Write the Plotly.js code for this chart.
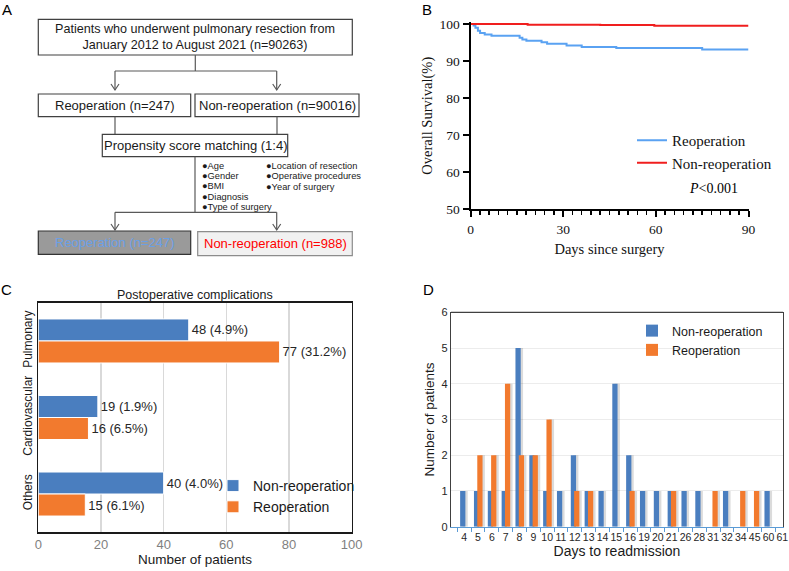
<!DOCTYPE html>
<html>
<head>
<meta charset="utf-8">
<script src="https://cdn.plot.ly/plotly-3.0.1.min.js"></script>
<style>html,body{margin:0;padding:0;background:#fff;}#chart{width:789px;height:571px;}</style>
</head>
<body>
<div id="chart"></div>
<script>
// ---------- Data ----------
// Panel B: Kaplan-Meier steps
const kmReopDays = [0, 1.0, 1.6, 2.4, 3.1, 4.6, 6.8, 15.9, 16.8, 18.1, 23.0, 24.8, 31.1, 36.0, 47.2, 75.0, 90];
const kmReopSurv = [100, 99.6, 99.0, 98.2, 97.6, 97.2, 96.8, 96.3, 95.8, 95.5, 95.1, 94.7, 94.2, 93.8, 93.5, 93.1, 93.1];
const kmNonDays = [0, 18.5, 42, 59.5, 90];
const kmNonSurv = [100, 99.8, 99.7, 99.5, 99.5];
// Panel C: complications
const compCategories = ['Pulmonary', 'Cardiovascular', 'Others'];
const compNonReop = [48, 19, 40];
const compNonReopPct = [4.9, 1.9, 4.0];
const compReop = [77, 16, 15];
const compReopPct = [31.2, 6.5, 6.1];
// Panel D: readmission
const readmitDays = ['4','5','6','7','8','9','10','11','12','13','14','15','16','19','20','21','26','28','31','32','34','45','60','61'];
const readmitNonReop = [1,1,1,1,5,2,1,1,2,1,1,4,2,1,1,1,1,1,0,1,0,0,1,0];
const readmitReop    = [0,2,2,4,2,2,3,0,1,1,0,0,1,0,0,1,0,0,1,0,1,1,0,0];
// Panel A: flowchart texts
const flowTop = 'Patients who underwent pulmonary resection from<br>January 2012 to August 2021 (n=90263)';
const flowReop = 'Reoperation (n=247)';
const flowNon = 'Non-reoperation (n=90016)';
const flowPSM = 'Propensity score matching (1:4)';
const flowCovLeft = ['Age', 'Gender', 'BMI', 'Diagnosis', 'Type of surgery'];
const flowCovRight = ['Location of resection', 'Operative procedures', 'Year of surgery'];
const flowReopM = 'Reoperation (n=247)';
const flowNonM = 'Non-reoperation (n=988)';

// ---------- Helpers ----------
const W = 789, H = 571;
const px = v => v / W;
const py = v => 1 - v / H;

const BLUE = '#4A7EBF', ORANGE = '#F27A2E';
const SANS = 'Liberation Sans, Arial, sans-serif';
const SERIF = 'Liberation Serif, Times New Roman, serif';

const fmt = (v, p) => v + ' (' + p.toFixed(1) + '%)';

// ---------- Traces ----------
const traces = [];
// B
traces.push({type:'scatter', mode:'lines', x:kmReopDays, y:kmReopSurv, line:{shape:'hv', color:'#5AA2F2', width:2},
  name:'Reoperation', xaxis:'x', yaxis:'y', legend:'legend', hoverinfo:'skip'});
traces.push({type:'scatter', mode:'lines', x:kmNonDays, y:kmNonSurv, line:{shape:'hv', color:'#F01E1E', width:2},
  name:'Non-reoperation', xaxis:'x', yaxis:'y', legend:'legend', hoverinfo:'skip'});
// C
traces.push({type:'bar', orientation:'h', y:compCategories, x:compNonReop, name:'Non-reoperation',
  marker:{color:BLUE, line:{color:'#ffffff', width:1}}, text:compNonReop.map((v,i)=>fmt(v, compNonReopPct[i])),
  textposition:'outside', textfont:{family:SANS, size:13, color:'#262626'}, cliponaxis:false,
  xaxis:'x2', yaxis:'y2', legend:'legend2', hoverinfo:'skip'});
traces.push({type:'bar', orientation:'h', y:compCategories, x:compReop, name:'Reoperation',
  marker:{color:ORANGE, line:{color:'#ffffff', width:1}}, text:compReop.map((v,i)=>fmt(v, compReopPct[i])),
  textposition:'outside', textfont:{family:SANS, size:13, color:'#262626'}, cliponaxis:false,
  xaxis:'x2', yaxis:'y2', legend:'legend2', hoverinfo:'skip'});
// D (shadows then bars)
const bw = 0.38;
traces.push({type:'bar', x:readmitDays, y:readmitNonReop, width:bw, offset:-0.29+0.17, marker:{color:'rgba(0,0,0,0.14)'},
  showlegend:false, xaxis:'x3', yaxis:'y3', hoverinfo:'skip'});
traces.push({type:'bar', x:readmitDays, y:readmitNonReop, width:bw, offset:-0.29, marker:{color:BLUE},
  name:'Non-reoperation', xaxis:'x3', yaxis:'y3', legend:'legend3', hoverinfo:'skip'});
traces.push({type:'bar', x:readmitDays, y:readmitReop, width:bw, offset:-0.05+0.17, marker:{color:'rgba(0,0,0,0.14)'},
  showlegend:false, xaxis:'x3', yaxis:'y3', hoverinfo:'skip'});
traces.push({type:'bar', x:readmitDays, y:readmitReop, width:bw, offset:-0.05, marker:{color:ORANGE},
  name:'Reoperation', xaxis:'x3', yaxis:'y3', legend:'legend3', hoverinfo:'skip'});

// ---------- Panel A shapes/annotations ----------
const shapes = [];
const ann = [];
const GRAY = '#595959';
function rect(x0,y0,x1,y1,fill,lc){shapes.push({type:'rect',xref:'paper',yref:'paper',x0:px(x0),x1:px(x1),y0:py(y1),y1:py(y0),
  line:{color:lc||'#404040',width:1.2},fillcolor:fill||'rgba(0,0,0,0)'});}
function line(x0,y0,x1,y1){shapes.push({type:'line',xref:'paper',yref:'paper',x0:px(x0),x1:px(x1),y0:py(y0),y1:py(y1),
  line:{color:GRAY,width:1.2}});}
function arrow(x,y0,y1){line(x,y0,x,y1);
  shapes.push({type:'path',xref:'paper',yref:'paper',path:'M'+px(x-4)+','+py(y1-6)+' L'+px(x)+','+py(y1)+' L'+px(x+4)+','+py(y1-6),
  line:{color:GRAY,width:1.2}});}
function text(x,y,t,size,color,anchor,fam){ann.push({xref:'paper',yref:'paper',x:px(x),y:py(y),text:t,showarrow:false,
  xanchor:anchor||'center',yanchor:'middle',font:{family:fam||SANS,size:size,color:color||'#1a1a1a'}});}

rect(38.3,19.3,352.3,55);
text(195.3,37.3,flowTop,12.6,'#1a1a1a');
line(195.3,55,195.3,71); line(115,71,276.7,71);
arrow(115,71,90); arrow(276.7,71,90);
rect(38.3,94,190.7,116.7); text(114.5,105.3,flowReop,13);
rect(195,94,359,116.7); text(277,105.3,flowNon,13);
line(115,116.7,115,134.3); line(277,116.7,277,134.3);
rect(102.3,134.3,287.7,156.7); text(195.7,145.5,flowPSM,13);
line(195,156.7,195,212.3); line(115,212.3,276.7,212.3);
arrow(115,212.3,230); arrow(276.7,212.3,230);
rect(38.3,231,190.7,254.3,'#9a9a9a','#333333'); text(114.5,242.7,flowReopM,13,'#6A9FE6');
rect(197.7,231.7,352.3,255.7,'#f1f1f1','#8c8c8c'); text(275,243.7,flowNonM,13,'#FF0000');
flowCovLeft.forEach((t,i)=>text(200,165.5+10.35*i,'●'+t,9.3,'#1a1a1a','left'));
flowCovRight.forEach((t,i)=>text(263.5,166+10.3*i,'●'+t,9.3,'#1a1a1a','left'));

// panel letters
text(7,9,'A',15,'#000','center');
text(427,9,'B',15,'#000','center');
text(6,289,'C',15,'#000','center');
text(428,289,'D',15,'#000','center');

// B annotations
ann.push({xref:'paper',yref:'paper',x:px(687),y:py(189),text:'<i>P</i>&lt;0.001',showarrow:false,xanchor:'left',yanchor:'middle',
  font:{family:SERIF,size:14,color:'#000'}});
// C title
text(195,294.5,'Postoperative complications',12.5,'#1a1a1a');

// D top border
shapes.push({type:'line',xref:'x3 domain',yref:'y3 domain',x0:0,x1:1,y0:1,y1:1,line:{color:'#404040',width:1.2}});

// ---------- Layout ----------
const kmPx = 3.706; // px per survival unit
const layout = {
  width:W, height:H, autosize:false, margin:{l:0,r:0,t:0,b:0},
  paper_bgcolor:'#fff', plot_bgcolor:'rgba(0,0,0,0)',
  showlegend:true, barmode:'group', bargap:0.425, bargroupgap:0,
  font:{family:SANS, color:'#1a1a1a'},
  // B
  xaxis:{anchor:'y', domain:[px(470.5), px(748.5)], range:[0,90], dtick:30, tick0:0, ticks:'outside', ticklen:6, tickwidth:2, tickcolor:'#000',
    showline:true, linewidth:2, linecolor:'#000', showgrid:false, zeroline:false,
    minor:{dtick:3, ticks:'outside', ticklen:4, tickwidth:1.5, tickcolor:'#000'},
    tickfont:{family:SERIF, size:13.5, color:'#111'},
    title:{text:'Days since surgery', font:{family:SERIF, size:14.5, color:'#111'}, standoff:8}},
  yaxis:{anchor:'x', domain:[py(209.3), py(24-0.5*kmPx)], range:[50,100.5], tickvals:[50,60,70,80,90,100], ticks:'outside', ticklen:6, tickwidth:2, tickcolor:'#000',
    showline:true, linewidth:2, linecolor:'#000', showgrid:false, zeroline:false,
    tickfont:{family:SERIF, size:13.5, color:'#111'},
    title:{text:'Overall Survival(%)', font:{family:SERIF, size:14.5, color:'#111'}, standoff:3}},
  // C
  xaxis2:{anchor:'y2', domain:[px(38.3), px(351.7)], range:[0,100], dtick:20, showgrid:true, gridcolor:'#d9d9d9', gridwidth:1.5,
    showline:true, mirror:true, linecolor:'#1a1a1a', linewidth:1.5, zeroline:false, ticks:'',
    tickfont:{family:SANS, size:13, color:'#7f7f7f'},
    title:{text:'Number of patients', font:{family:SANS, size:13.5, color:'#1a1a1a'}, standoff:2}},
  yaxis2:{anchor:'x2', domain:[py(532.3), py(302.7)], type:'category', categoryarray:compCategories, autorange:'reversed',
    showline:true, mirror:true, linecolor:'#1a1a1a', linewidth:1.5, ticks:'', tickangle:-90,
    tickfont:{family:SANS, size:12, color:'#1a1a1a'}},
  // D
  xaxis3:{anchor:'y3', domain:[px(451), px(783)], type:'category', categoryarray:readmitDays, range:[-0.95, 23.05],
    tickson:'boundaries', ticks:'outside', ticklen:4, tickcolor:'#5B9BD5', tickwidth:1, tickangle:0,
    showline:true, linecolor:'#5B9BD5', linewidth:1.5, showgrid:false, zeroline:false,
    tickfont:{family:SANS, size:10.5, color:'#262626'},
    title:{text:'Days to readmission', font:{family:SANS, size:14, color:'#1a1a1a'}, standoff:4}},
  yaxis3:{anchor:'x3', domain:[py(526.7), py(312.3)], range:[0,6], dtick:1, showgrid:true, gridcolor:'#ececec', gridwidth:1,
    showline:true, mirror:true, linecolor:'#404040', linewidth:1.2, zeroline:false, ticks:'',
    tickfont:{family:SANS, size:11, color:'#262626'},
    title:{text:'Number of patients', font:{family:SANS, size:13.5, color:'#1a1a1a'}, standoff:3}},
  legend:{x:px(632), y:py(124), xanchor:'left', yanchor:'top', bgcolor:'rgba(0,0,0,0)', traceorder:'normal',
    font:{family:SERIF, size:15, color:'#111'}, tracegroupgap:4},
  legend2:{x:px(213), y:py(470), xanchor:'left', yanchor:'top', bgcolor:'rgba(0,0,0,0)',
    font:{family:SANS, size:14, color:'#1a1a1a'}, itemwidth:30},
  legend3:{x:px(632), y:py(316), xanchor:'left', yanchor:'top', bgcolor:'rgba(0,0,0,0)',
    font:{family:SANS, size:12.5, color:'#1a1a1a'}, itemwidth:30},
  shapes:shapes, annotations:ann
};

Plotly.newPlot('chart', traces, layout, {staticPlot:true, displayModeBar:false});
</script>
</body>
</html>
